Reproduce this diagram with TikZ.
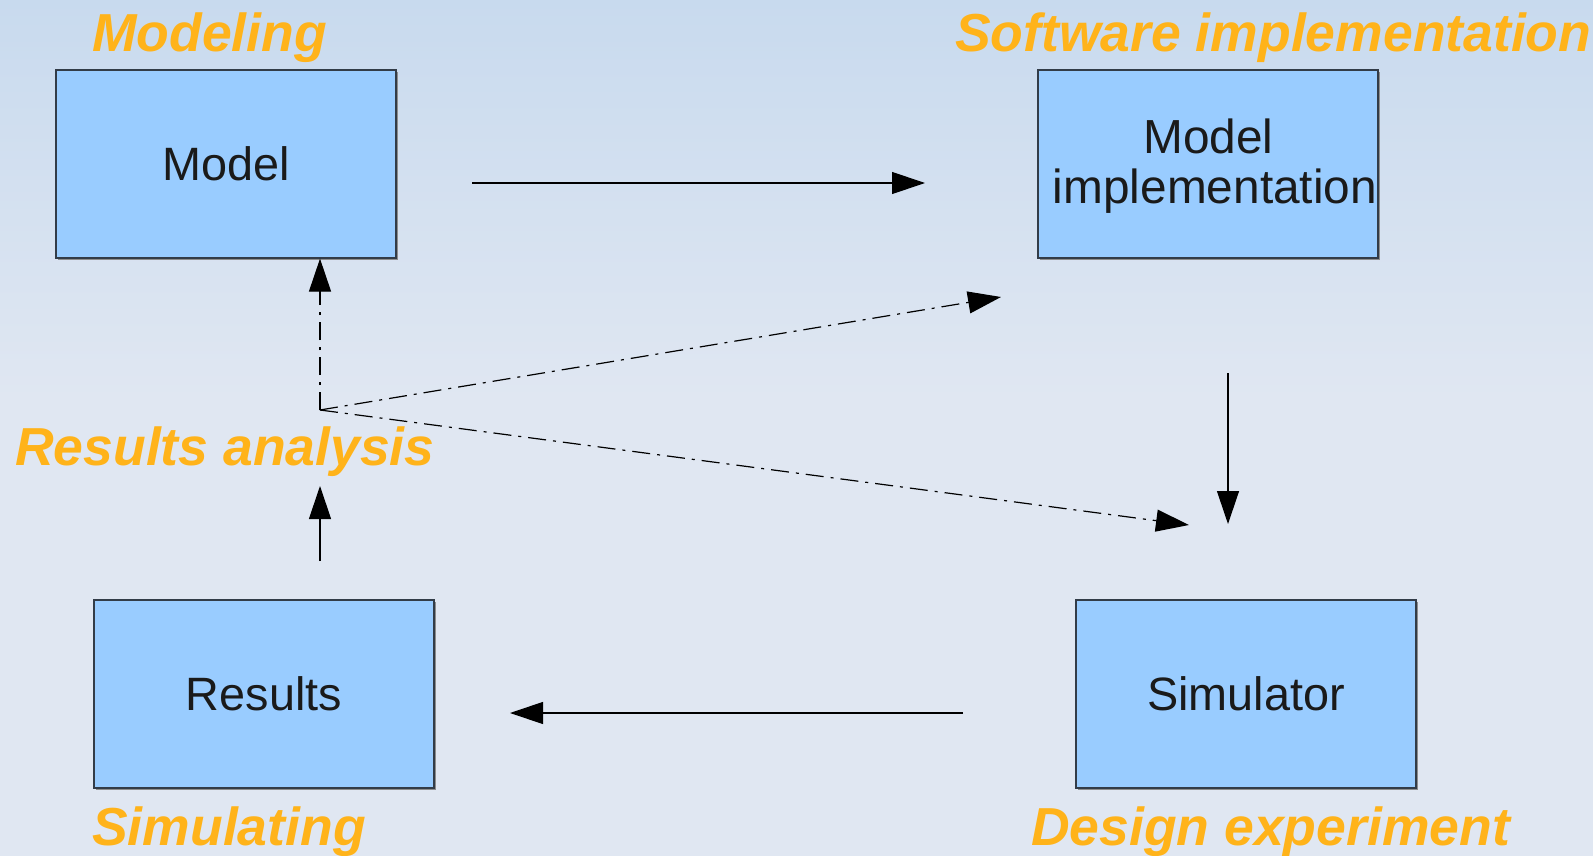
\documentclass[tikz,border=0pt]{standalone}
\usepackage{fontspec}
\setmainfont{Liberation Sans}
\usetikzlibrary{arrows.meta,shadows}

\definecolor{bgtop}{RGB}{200,218,238}
\definecolor{bgbot}{RGB}{224,231,242}
\definecolor{boxfill}{RGB}{153,204,255}
\definecolor{boxline}{RGB}{50,60,72}
\definecolor{phase}{RGB}{255,179,26}
\definecolor{ink}{RGB}{26,26,26}

\tikzset{
  blockbox/.style={draw=boxline, line width=1.2pt, fill=boxfill,
    minimum width=340pt, minimum height=188pt, inner sep=0pt,
    text=ink, align=center,
    font=\fontsize{46.8}{52}\selectfont,
    general shadow={fill=black!45, shadow xshift=1.6pt, shadow yshift=-1.6pt}},
  boxtext/.style={inner sep=0pt, text=ink, align=center,
    font=\fontsize{47.8}{50}\selectfont},
  phaselabel/.style={anchor=base west, inner sep=0pt, text=phase,
    font=\fontsize{53.5}{60}\selectfont\bfseries\itshape},
  flow/.style={line width=1.2pt, -{Triangle[length=33pt,width=22pt]}},
  feedback/.style={flow, dash pattern=on 18pt off 7pt on 3pt off 7pt}
}

\begin{document}
\begin{tikzpicture}[x=1pt,y=-1pt]
  % backdrop with a soft vertical gradient at the top
  \fill[bgbot] (0,0) rectangle (1593,856);
  \fill[top color=bgtop, bottom color=bgbot] (0,0) rectangle (1593,400);
  \useasboundingbox (0,0) rectangle (1593,856);

  % the four stages
  \node[blockbox] (model)     at (226,164)  {Model};
  \node[blockbox] (modelimpl) at (1208,164) {};
  \node[boxtext]  (implname)  at (1215,166) {Model\hspace*{13pt}\\implementation};
  \node[blockbox] (results)   at (264,694)  {Results};
  \node[blockbox] (simulator) at (1246,694) {Simulator};

  % phase captions
  \node[phaselabel] (lmodeling)  at (92,52)   {Modeling};
  \node[phaselabel] (lsoftware)  at (955,52)  {Software implementation};
  \node[phaselabel] (lanalysis)  at (15,465)  {Results analysis};
  \node[phaselabel] (lsimul)     at (92,845)  {Simulating};
  \node[phaselabel] (ldesign)    at (1031,845){Design experiment};

  % free ends of the main cycle arrows
  \coordinate (m2i-s) at (472,183);
  \coordinate (m2i-e) at (925,183);
  \coordinate (i2s-s) at (1228,373);
  \coordinate (i2s-e) at (1228,524);
  \coordinate (s2r-s) at (963,713);
  \coordinate (s2r-e) at (510,713);
  \coordinate (r2a-s) at (320,561);
  \coordinate (r2a-e) at (320,486);

  % feedback hub and its targets
  \coordinate (hub)    at (320,410);
  \coordinate (fb-imp) at (1001,297);
  \coordinate (fb-sim) at (1189,525);

  \draw[flow] (m2i-s) -- (m2i-e);
  \draw[flow] (i2s-s) -- (i2s-e);
  \draw[flow] (s2r-s) -- (s2r-e);
  \draw[flow] (r2a-s) -- (r2a-e);

  \draw[feedback] (hub) -- (hub |- model.south);
  \draw[feedback] (hub) -- (fb-imp);
  \draw[feedback] (hub) -- (fb-sim);
\end{tikzpicture}
\end{document}
